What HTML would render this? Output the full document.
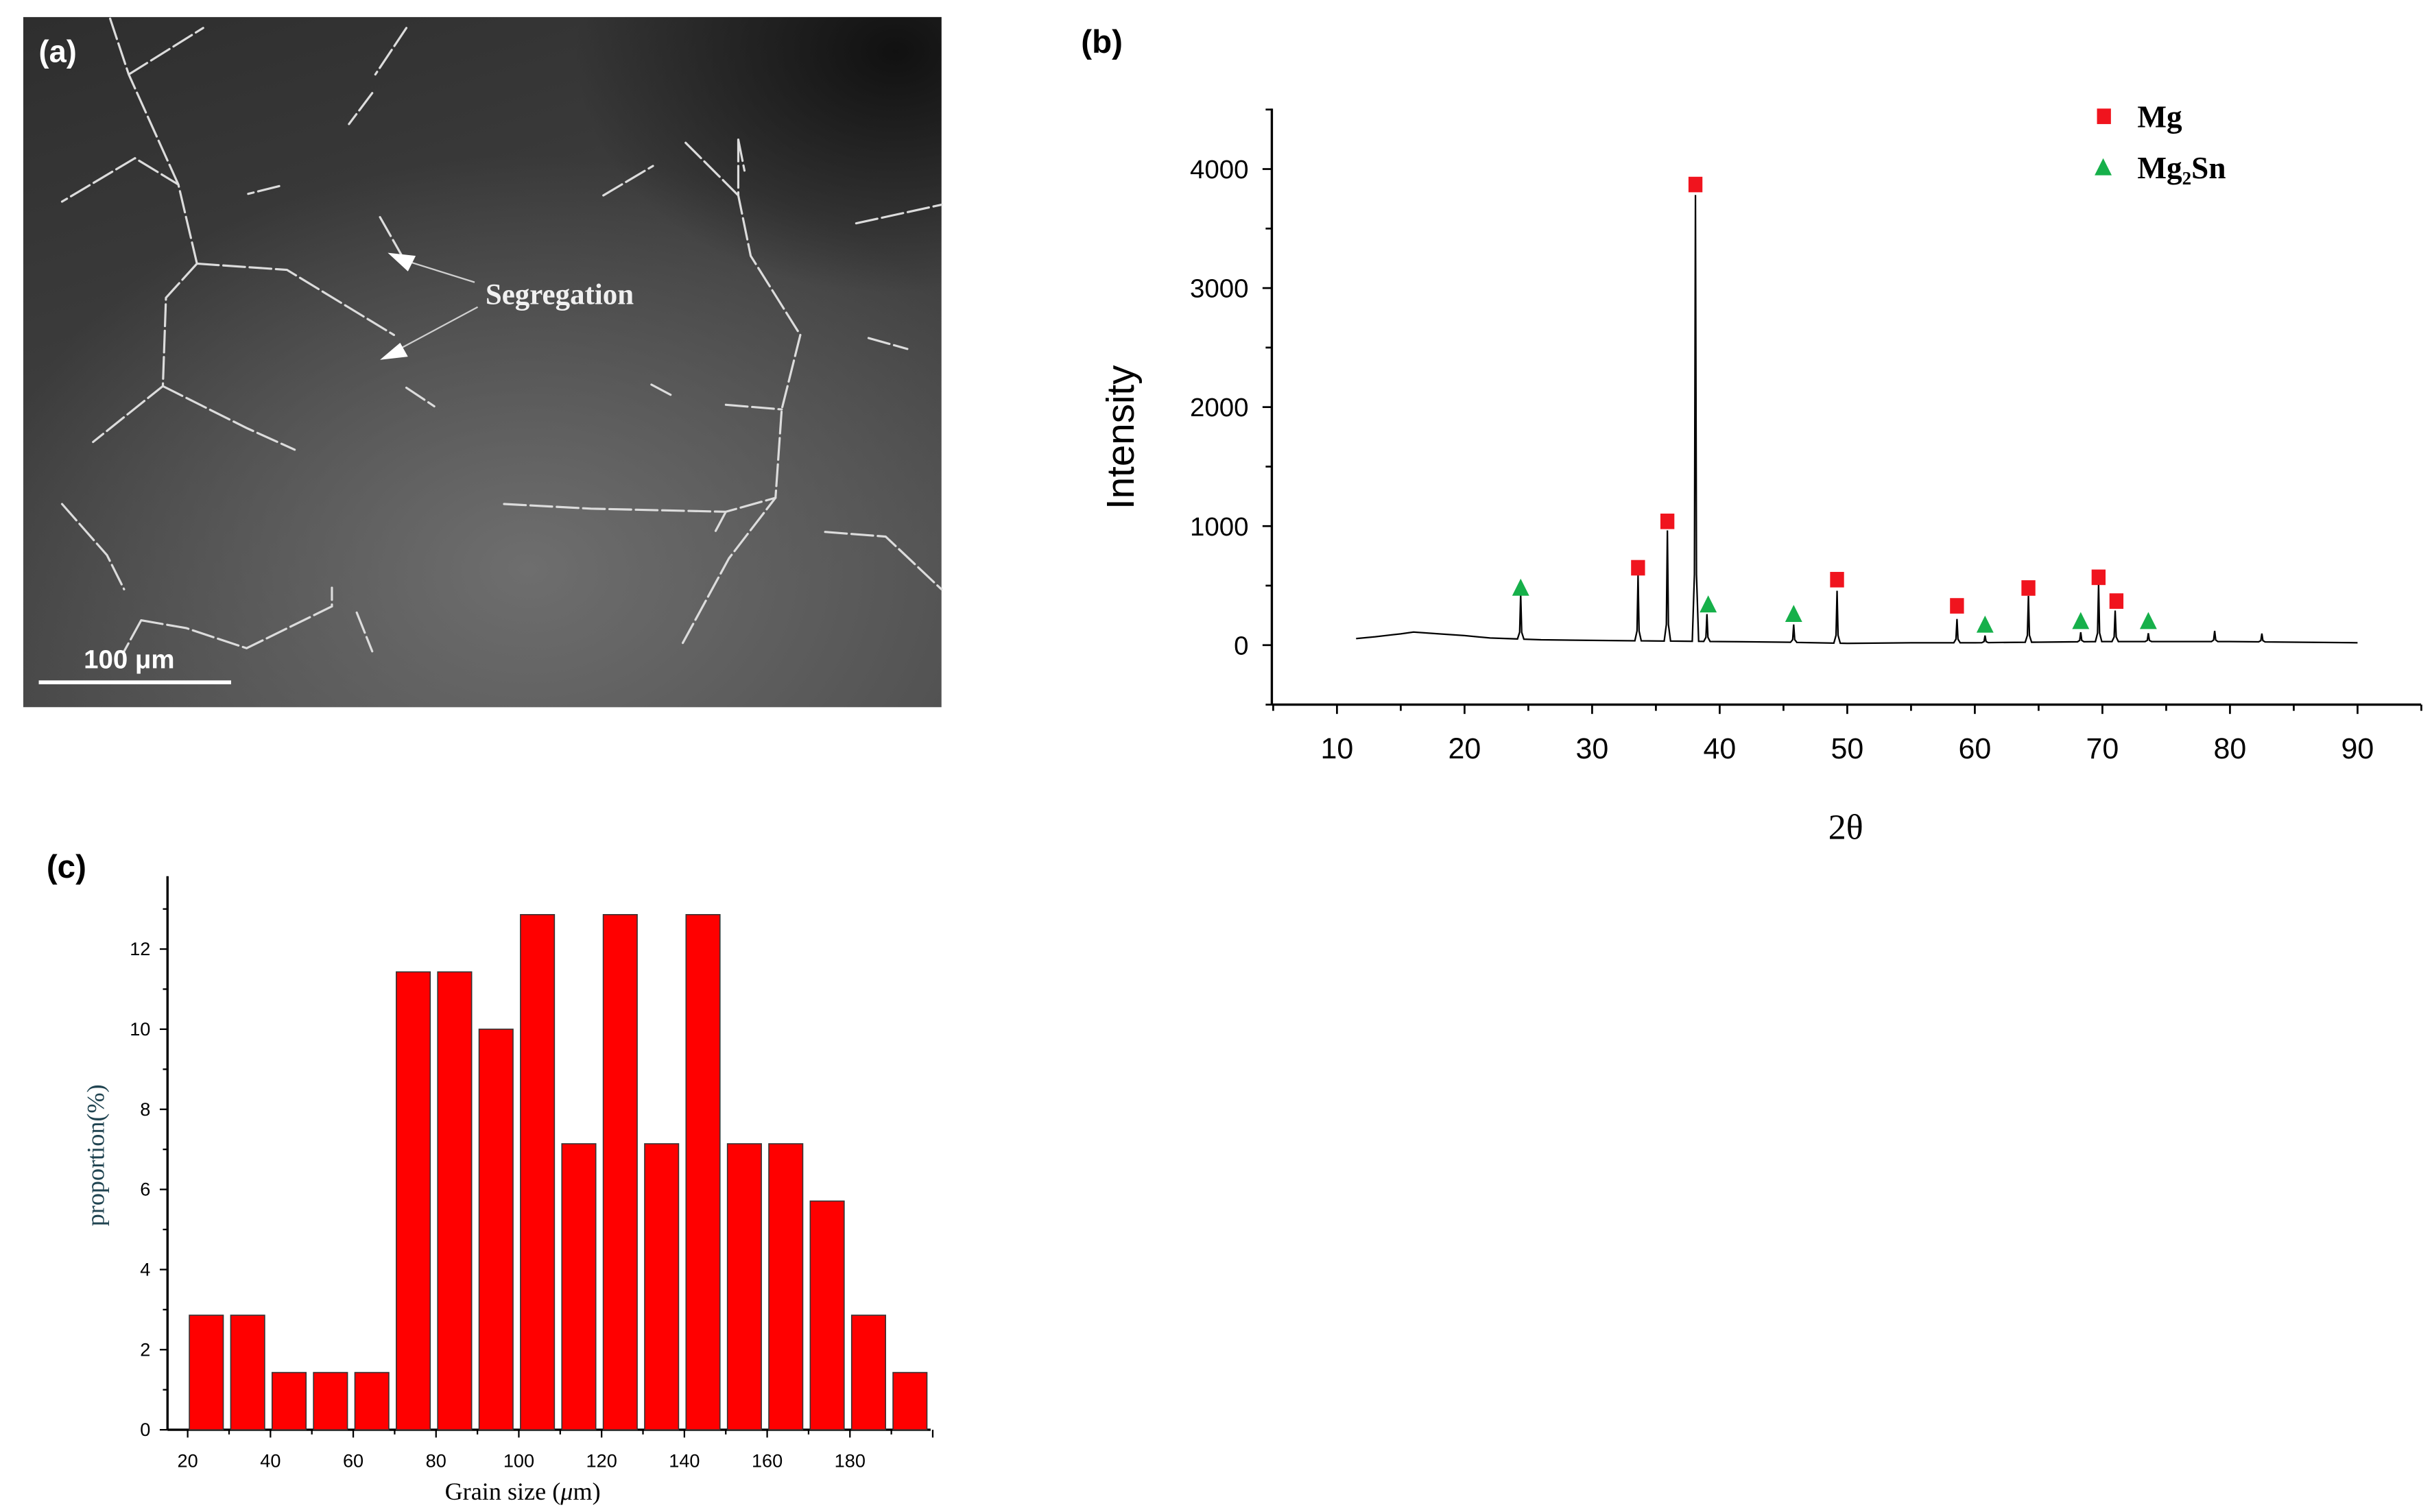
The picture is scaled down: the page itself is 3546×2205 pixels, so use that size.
<!DOCTYPE html>
<html><head><meta charset="utf-8">
<style>
html,body{margin:0;padding:0;background:#fff;}
svg{display:block;}
</style></head>
<body>
<svg id="fig" width="3546" height="2205" viewBox="0 0 1568 975" xmlns="http://www.w3.org/2000/svg" font-family="'Liberation Sans', sans-serif">
<defs>
<radialGradient id="g1" cx="0.55" cy="0.8" r="0.6"><stop offset="0" stop-color="#6e6e6e"/><stop offset="1" stop-color="#6e6e6e" stop-opacity="0"/></radialGradient>
<linearGradient id="g0" x1="0" y1="0" x2="0.4" y2="1"><stop offset="0" stop-color="#2e2e2e"/><stop offset="1" stop-color="#4c4c4c"/></linearGradient>
<radialGradient id="g2" cx="0.95" cy="0.05" r="0.35"><stop offset="0" stop-color="#111"/><stop offset="1" stop-color="#111" stop-opacity="0"/></radialGradient>
</defs>
<!-- Panel a -->
<g>
<rect x="15" y="11" width="592" height="445" fill="url(#g0)"/>
<rect x="15" y="11" width="592" height="445" fill="url(#g1)"/>
<rect x="15" y="11" width="592" height="445" fill="url(#g2)"/>
<g stroke="#dcdcdc" stroke-width="1.4" fill="none" stroke-linecap="round" stroke-dasharray="14 3">
<path d="M127,170 L115,119 L87,102 M115,119 L83,48 L71,12 M83,48 L131,18 M87,102 L40,130"/>
<path d="M127,170 L185,174 L254,216 M127,170 L107,192 L105,249 L60,285 M105,249 L159,276 L190,290"/>
<path d="M262,18 L242,48 M240,60 L225,80 M180,120 L160,125 M245,140 L262,170"/>
<path d="M476,90 L476,126 L484,165 L516,216 L504,264 L500,321 L470,360 L440,415 M476,126 L440,90 M476,90 L480,110"/>
<path d="M389,126 L421,107 M262,250 L280,262"/>
<path d="M325,325 L381,328 L468,330 L500,321 M468,330 L460,345"/>
<path d="M532,343 L571,346 L607,380 M552,144 L607,132 M468,261 L504,264 M420,248 L435,256 M560,218 L585,225"/>
<path d="M91,400 L120,405 L159,418 L214,391 L214,379 M91,400 L80,420 M230,395 L240,420"/>
<path d="M40,325 L69,358 L80,380"/>
</g>
<g stroke="#cfcfcf" stroke-width="1">
<line x1="306" y1="182" x2="258" y2="167"/>
<line x1="308" y1="198" x2="252" y2="228"/>
<polygon points="250,163 268,165 263,175" fill="#fff" stroke="none"/>
<polygon points="245,232 258,221 263,230" fill="#fff" stroke="none"/>
</g>
<text x="313" y="196" font-family="'Liberation Serif', serif" font-weight="bold" font-size="19" fill="#f0f0f0">Segregation</text>
<line x1="25" y1="440" x2="149" y2="440" stroke="#fff" stroke-width="2.5"/>
<text x="54" y="431" font-weight="bold" font-size="17" fill="#fff">100 μm</text>
<text x="25" y="40" font-weight="bold" font-size="20" fill="#fff">(a)</text>
</g>
<text x="697" y="34" font-weight="bold" font-size="21" fill="#000">(b)</text>
<text x="30" y="566" font-weight="bold" font-size="21" fill="#000">(c)</text>
<g id="xrd"></g>
<g id="hist"></g>
</svg>
<script>
// ---- XRD data ----
const xrdBaseX = [11.5,13,15,16,18,20,22,26,30,35,40,45,50,55,60,65,70,75,80,85,90];
const xrdBaseY = [55,70,95,110,95,80,60,45,40,35,30,25,15,20,20,25,30,30,30,25,20];
const xrdPeakX = [24.4,33.6,35.9,38.1,39.0,45.8,49.2,58.6,60.8,64.2,68.3,69.7,71.0,73.6,78.8,82.5];
const xrdPeakY = [380,550,930,3750,230,150,440,200,60,390,80,480,260,70,90,70];
const mgX = [33.6,35.9,38.1,49.2,58.6,64.2,69.7,71.1];
const mgY = [650,1040,3870,550,330,480,570,370];
const mg2snX = [24.4,39.1,45.8,60.8,68.3,73.6];
const mg2snY = [480,340,260,170,200,200];
const xrdXTicks = [10,20,30,40,50,60,70,80,90];
const xrdYTicks = [0,1000,2000,3000,4000];
// ---- Histogram data ----
const binStart = [20,30,40,50,60,70,80,90,100,110,120,130,140,150,160,170,180,190];
const proportion = [2.86,2.86,1.43,1.43,1.43,11.43,11.43,10,12.86,7.14,12.86,7.14,12.86,7.14,7.14,5.71,2.86,1.43];
const histXTicks = [20,40,60,80,100,120,140,160,180];
const histYTicks = [0,2,4,6,8,10,12];

const NS = 'http://www.w3.org/2000/svg';
function mk(parent, tag, attrs, txt){
  const e = document.createElementNS(NS, tag);
  for (const k in attrs) e.setAttribute(k, attrs[k]);
  if (txt !== undefined) e.textContent = txt;
  parent.appendChild(e);
  return e;
}

// XRD axes
const bx = v => 862 + (v - 10) * (1520 - 862) / 80;
const by = v => 416 - v * (416 - 109) / 4000;
const xrd = document.getElementById('xrd');
let a = mk(xrd, 'line', {x1:820, y1:70, x2:820, y2:by(-500), stroke:'#000', 'stroke-width':1.5});


a = mk(xrd, 'line', {x1:820, y1:by(-500), x2:1561, y2:by(-500), stroke:'#000', 'stroke-width':1.5});


for (let v = -500; v <= 4500; v += 500) {
  const major = v % 1000 === 0;
  const t = mk(xrd, 'line', {x1:820 - (major ? 6 : 4), y1:by(v), x2:820, y2:by(v), stroke:'#000', 'stroke-width':1.2});
  
  
}
xrdYTicks.forEach(v => {
  const t = mk(xrd, 'text', {x:805, y:by(v) + 6, 'text-anchor':'end', 'font-size':17, fill:'#000'}, String(v));
  
  
});
for (let v = 5; v <= 95; v += 5) {
  const major = v % 10 === 0;
  const t = mk(xrd, 'line', {x1:bx(v), y1:by(-500), x2:bx(v), y2:by(-500) + (major ? 6 : 4), stroke:'#000', 'stroke-width':1.2});
  
  
}
xrdXTicks.forEach(v => {
  const t = mk(xrd, 'text', {x:bx(v), y:489, 'text-anchor':'middle', 'font-size':19, fill:'#000'}, String(v));
  
  
});
a = mk(xrd, 'text', {x:0, y:0, transform:'translate(731,282) rotate(-90)', 'text-anchor':'middle', 'font-size':25, fill:'#000'}, 'Intensity');


a = mk(xrd, 'text', {x:1190, y:541, 'text-anchor':'middle', 'font-size':23, 'font-family':"'Liberation Serif', serif", fill:'#000'}, '2θ');



function baseAt(x){
  for (let i = 0; i < xrdBaseX.length - 1; i++) {
    if (x >= xrdBaseX[i] && x <= xrdBaseX[i+1]) {
      const f = (x - xrdBaseX[i]) / (xrdBaseX[i+1] - xrdBaseX[i]);
      return xrdBaseY[i] + f * (xrdBaseY[i+1] - xrdBaseY[i]);
    }
  }
  return xrdBaseY[xrdBaseY.length - 1];
}
const pts = [];
const xs = [];
for (let i = 0; i < xrdBaseX.length; i++) xs.push(xrdBaseX[i]);
xrdPeakX.forEach(p => { xs.push(p - 0.25, p - 0.08, p, p + 0.08, p + 0.25); });
xs.sort((p, q) => p - q);
xs.forEach(x => {
  let y = baseAt(x);
  xrdPeakX.forEach((p, k) => {
    if (Math.abs(x - p) < 0.001) y += xrdPeakY[k];
    else if (Math.abs(Math.abs(x - p) - 0.08) < 0.001) y += xrdPeakY[k] * 0.15;
  });
  pts.push(bx(x).toFixed(2) + ',' + by(y).toFixed(2));
});
a = mk(xrd, 'polyline', {points: pts.join(' '), fill:'none', stroke:'#000', 'stroke-width':1});



mgX.forEach((x, i) => {
  const m = mk(xrd, 'rect', {x:bx(x) - 4.5, y:by(mgY[i]) - 5, width:9, height:10, fill:'#f0141e'});
  
  
});
mg2snX.forEach((x, i) => {
  const cx = bx(x), cy = by(mg2snY[i]);
  const m = mk(xrd, 'polygon', {points:`${cx},${cy-6} ${cx+5.5},${cy+5} ${cx-5.5},${cy+5}`, fill:'#16b04a'});
  
  
});
a = mk(xrd, 'rect', {x:1352, y:70, width:9, height:10, fill:'#f0141e'});


a = mk(xrd, 'text', {x:1378, y:82, 'font-size':20, 'font-weight':'bold', 'font-family':"'Liberation Serif', serif", fill:'#000'}, 'Mg');


a = mk(xrd, 'polygon', {points:'1356,102 1361.5,113 1350.5,113', fill:'#16b04a'});


a = mk(xrd, 'text', {x:1378, y:115, 'font-size':20, 'font-weight':'bold', 'font-family':"'Liberation Serif', serif", fill:'#000'});


a.innerHTML = 'Mg<tspan font-size="12" dy="4">2</tspan><tspan dy="-4">Sn</tspan>';

// Histogram
const hx = v => 121 + (v - 20) * (548 - 121) / 160;
const hy = v => 922 - v * (922 - 612) / 12;
const hist = document.getElementById('hist');
a = mk(hist, 'line', {x1:108, y1:565, x2:108, y2:922, stroke:'#000', 'stroke-width':1.5});


a = mk(hist, 'line', {x1:108, y1:922, x2:600, y2:922, stroke:'#000', 'stroke-width':1.5});


binStart.forEach((b, i) => {
  const x0 = hx(b + 0.4), x1 = hx(b + 8.6);
  const r = mk(hist, 'rect', {x:x0, y:hy(proportion[i]), width:x1 - x0, height:922 - hy(proportion[i]), fill:'#ff0000', stroke:'#333', 'stroke-width':0.7});
  
  
});
for (let v = 0; v <= 13; v++) {
  const t = mk(hist, 'line', {x1:108 - (v % 2 === 0 ? 5 : 3), y1:hy(v), x2:108, y2:hy(v), stroke:'#000', 'stroke-width':1});
  
  
}
histYTicks.forEach(v => {
  const t = mk(hist, 'text', {x:97, y:hy(v) + 4, 'text-anchor':'end', 'font-size':12, fill:'#000'}, String(v));
  
  
});
for (let v = 20; v <= 200; v += 10) {
  const t = mk(hist, 'line', {x1:hx(v), y1:922, x2:hx(v), y2:922 + (v % 20 === 0 ? 5 : 3), stroke:'#000', 'stroke-width':1});
  
  
}
histXTicks.forEach(v => {
  const t = mk(hist, 'text', {x:hx(v), y:946, 'text-anchor':'middle', 'font-size':12, fill:'#000'}, String(v));
  
  
});
a = mk(hist, 'text', {x:0, y:0, transform:'translate(67,745) rotate(-90)', 'text-anchor':'middle', 'font-size':16, 'font-family':"'Liberation Serif', serif", fill:'#1f4350'}, 'proportion(%)');


a = mk(hist, 'text', {x:337, y:967, 'text-anchor':'middle', 'font-size':16, 'font-family':"'Liberation Serif', serif", fill:'#000'});


a.innerHTML = 'Grain size (<tspan font-style="italic">μ</tspan>m)';
</script>
</body></html>
